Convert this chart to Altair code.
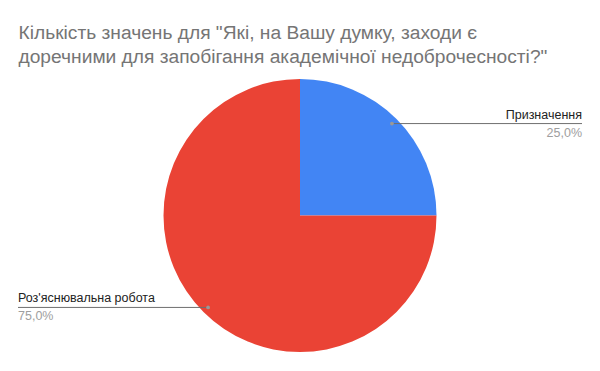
import altair as alt
import pandas as pd

categories = ["Призначення", "Роз'яснювальна робота"]
counts = [1, 3]
colors = ["#4285F4", "#EA4335"]
title_lines = [
    "Кількість значень для \"Які, на Вашу думку, заходи є",
    "доречними для запобігання академічної недоброчесності?\"",
]

total = sum(counts)
df = pd.DataFrame({
    "cat": categories,
    "v": counts,
    "order": list(range(len(categories))),
    "pct": [(f"{c / total * 100:.1f}%").replace(".", ",") for c in counts],
})

CX, CY, R = 300, 215.5, 136.5
DOT_R = 130
RIGHT_X, LEFT_X = 582, 18
FONT = "Liberation Sans, Arial"
LABEL_SIZE = 12.5
TITLE_SIZE = 19.2

base = alt.Chart(df)

pie = base.mark_arc(outerRadius=R, strokeWidth=0).encode(
    theta=alt.Theta("v:Q", stack=True),
    order=alt.Order("order:Q"),
    color=alt.Color("cat:N", scale=alt.Scale(domain=categories, range=colors), legend=None),
    x=alt.value(CX), y=alt.value(CY),
)

lab = base.transform_joinaggregate(tot="sum(v)").transform_window(
    cum="sum(v)", sort=[alt.SortField("order")]
).transform_calculate(
    mid="(datum.cum - datum.v/2)/datum.tot*2*PI",
).transform_calculate(
    dx=f"{CX} + {DOT_R}*sin(datum.mid)",
    dy=f"{CY} - {DOT_R}*cos(datum.mid)",
    right="sin(datum.mid) > 0",
).transform_calculate(
    xend=f"datum.right ? {RIGHT_X} : {LEFT_X}",
    ytop="datum.dy - 9",
    ybot="datum.dy + 9",
)

px = lambda f: alt.X(f, type="quantitative", scale=None, axis=None)
py = lambda f: alt.Y(f, type="quantitative", scale=None, axis=None)

lines = lab.mark_rule(color="#6f6f6f", strokeWidth=1).encode(
    x=px("dx"), x2="xend:Q", y=py("dy"),
)
dots = lab.mark_point(filled=True, size=14, color="#999999", opacity=1).encode(
    x=px("dx"), y=py("dy"),
)
txt_r = lab.transform_filter("datum.right").mark_text(
    align="right", baseline="middle", font=FONT, fontSize=LABEL_SIZE, color="#222222"
).encode(x=px("xend"), y=py("ytop"), text="cat:N")
pct_r = lab.transform_filter("datum.right").mark_text(
    align="right", baseline="middle", font=FONT, fontSize=LABEL_SIZE, color="#9e9e9e"
).encode(x=px("xend"), y=py("ybot"), text="pct:N")
txt_l = lab.transform_filter("!datum.right").mark_text(
    align="left", baseline="middle", font=FONT, fontSize=LABEL_SIZE, color="#222222"
).encode(x=px("xend"), y=py("ytop"), text="cat:N")
pct_l = lab.transform_filter("!datum.right").mark_text(
    align="left", baseline="middle", font=FONT, fontSize=LABEL_SIZE, color="#9e9e9e"
).encode(x=px("xend"), y=py("ybot"), text="pct:N")

tdf = pd.DataFrame({"t": title_lines, "i": list(range(len(title_lines)))})
title = alt.Chart(tdf).transform_calculate(ty="33 + datum.i*24").mark_text(
    align="left", baseline="middle", font=FONT, fontSize=TITLE_SIZE, color="#757575"
).encode(x=alt.value(18.5), y=py("ty"), text="t:N")

chart = alt.layer(pie, lines, dots, txt_r, pct_r, txt_l, pct_l, title).properties(
    width=600, height=371, padding=0, autosize=alt.AutoSizeParams(type="none"),
    background="#ffffff",
).configure_view(stroke=None)

chart.save("out.html", embed_options={"renderer": "svg", "actions": False})
